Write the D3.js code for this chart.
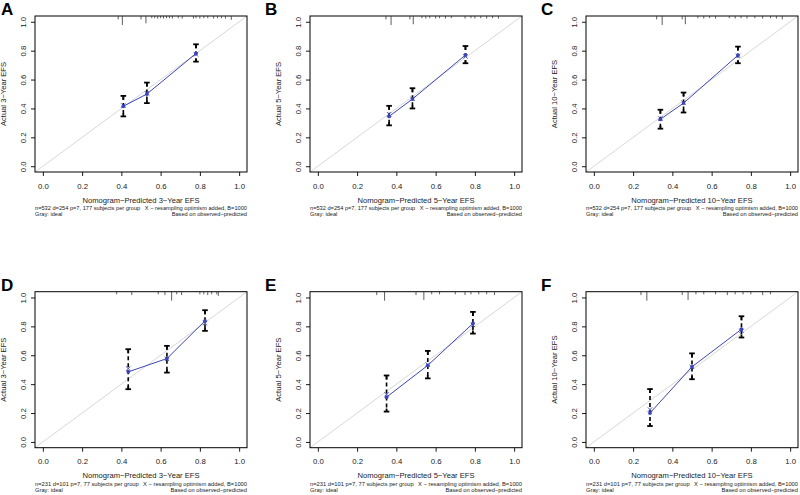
<!DOCTYPE html>
<html>
<head>
<meta charset="utf-8">
<script src="https://cdn.jsdelivr.net/npm/d3@7"></script>
<style>
  html, body { margin: 0; padding: 0; background: #fff; }
  svg { display: block; font-family: "Liberation Sans", Arial, Helvetica, sans-serif; }
</style>
</head>
<body>
<script>
// ---------------- DATA ----------------
const panelLetters = ["A", "B", "C", "D", "E", "F"];
const horizons = ["3", "5", "10", "3", "5", "10"];
const tickValues = [0, 0.2, 0.4, 0.6, 0.8, 1.0];
const tickLabels = ["0.0", "0.2", "0.4", "0.6", "0.8", "1.0"];
const sampleInfo = ["n=532 d=254 p=7, 177 subjects per group", "n=532 d=254 p=7, 177 subjects per group", "n=532 d=254 p=7, 177 subjects per group",
                    "n=231 d=101 p=7, 77 subjects per group", "n=231 d=101 p=7, 77 subjects per group", "n=231 d=101 p=7, 77 subjects per group"];
const optimismNote = "X \u2212 resampling optimism added, B=1000";
const idealNote = "Gray: ideal";
const basisNote = "Based on observed\u2212predicted";

// mean predicted probability per group
const predicted = [
  [0.41, 0.53, 0.78],
  [0.363, 0.482, 0.752],
  [0.339, 0.457, 0.734],
  [0.435, 0.632, 0.826],
  [0.35, 0.56, 0.79],
  [0.286, 0.50, 0.752]
];
// observed (Kaplan-Meier) estimate per group
const observed = [
  [0.415, 0.50, 0.78],
  [0.345, 0.465, 0.77],
  [0.325, 0.437, 0.768],
  [0.485, 0.577, 0.838],
  [0.31, 0.53, 0.82],
  [0.20, 0.52, 0.78]
];
// bias-corrected estimate per group (X marks)
const corrected = [
  [0.42, 0.505, 0.775],
  [0.36, 0.467, 0.76],
  [0.33, 0.44, 0.765],
  [0.508, 0.575, 0.822],
  [0.33, 0.535, 0.81],
  [0.224, 0.52, 0.769]
];
const lowerCI = [
  [0.345, 0.437, 0.724],
  [0.283, 0.40, 0.713],
  [0.26, 0.372, 0.713],
  [0.365, 0.48, 0.769],
  [0.21, 0.44, 0.75],
  [0.11, 0.434, 0.723]
];
const upperCI = [
  [0.487, 0.579, 0.844],
  [0.418, 0.54, 0.832],
  [0.391, 0.51, 0.828],
  [0.642, 0.665, 0.912],
  [0.46, 0.63, 0.90],
  [0.366, 0.613, 0.87]
];
// spike histogram of predictions along the top border
const rugValues = [
  [0.384, 0.405, 0.50, 0.525, 0.555, 0.57, 0.585, 0.60, 0.615, 0.63, 0.645, 0.66, 0.69, 0.71, 0.767, 0.78, 0.80, 0.82, 0.84, 0.87, 0.89, 0.91, 0.93, 0.96],
  [0.347, 0.373, 0.469, 0.486, 0.53, 0.55, 0.57, 0.60, 0.62, 0.65, 0.68, 0.75, 0.78, 0.80, 0.83, 0.86, 0.89, 0.92],
  [0.32, 0.348, 0.45, 0.466, 0.53, 0.56, 0.59, 0.62, 0.69, 0.72, 0.75, 0.78, 0.82, 0.86, 0.90, 0.93, 0.96],
  [0.376, 0.453, 0.588, 0.622, 0.656, 0.682, 0.707, 0.80, 0.82, 0.84, 0.86, 0.886, 0.894],
  [0.30, 0.34, 0.50, 0.54, 0.58, 0.62, 0.70, 0.75, 0.78, 0.82, 0.86, 0.90],
  [0.24, 0.27, 0.45, 0.48, 0.52, 0.56, 0.62, 0.68, 0.72, 0.76, 0.80, 0.86, 0.90]
];
const rugHeights = [
  [0.3, 1.0, 0.3, 0.8, 0.15, 0.15, 0.2, 0.15, 0.2, 0.15, 0.15, 0.2, 0.15, 0.2, 0.2, 0.15, 0.2, 0.15, 0.15, 0.2, 0.15, 0.15, 0.2, 0.35],
  [0.3, 1.0, 0.3, 0.9, 0.15, 0.2, 0.15, 0.2, 0.15, 0.2, 0.15, 0.2, 0.15, 0.2, 0.15, 0.2, 0.15, 0.2],
  [0.3, 1.0, 0.3, 0.9, 0.15, 0.2, 0.15, 0.2, 0.15, 0.2, 0.15, 0.2, 0.15, 0.2, 0.15, 0.2, 0.3],
  [0.2, 0.3, 0.2, 0.3, 1.0, 0.2, 0.3, 0.2, 0.2, 0.3, 0.2, 0.2, 0.4],
  [0.3, 1.0, 0.3, 0.9, 0.2, 0.2, 0.2, 0.3, 0.2, 0.2, 0.2, 0.3],
  [0.3, 1.0, 0.3, 0.9, 0.2, 0.2, 0.2, 0.3, 0.2, 0.2, 0.2, 0.3, 0.2]
];

// ---------------- LAYOUT ----------------
const W = 800, H = 495;
const boxLefts = [35, 310, 586];
const boxTops = [16, 291.7];
const letterX = [1, 265, 541];
const boxW = 212, boxH = 156;
const blue = "#3c45b6";
const ink = "#1a1a1a";

const svg = d3.select("body").append("svg")
  .attr("width", W).attr("height", H)
  .attr("viewBox", `0 0 ${W} ${H}`);
svg.append("rect").attr("width", W).attr("height", H).attr("fill", "#fff");

panelLetters.forEach((letter, i) => {
  const col = i % 3, row = Math.floor(i / 3);
  const L = boxLefts[col], T = boxTops[row];
  const x = d3.scaleLinear().domain([-0.04, 1.04]).range([L, L + boxW]);
  const y = d3.scaleLinear().domain([-0.04, 1.04]).range([T + boxH, T]);
  const g = svg.append("g");

  // panel letter
  g.append("text").attr("x", letterX[col]).attr("y", T - 1)
    .attr("font-size", 17).attr("font-weight", "bold").attr("fill", "#000")
    .text(letter);

  // ideal line
  g.append("line")
    .attr("x1", x(-0.04)).attr("y1", y(-0.04))
    .attr("x2", x(1.04)).attr("y2", y(1.04))
    .attr("stroke", "#d8d8d8").attr("stroke-width", 1);

  // x axis
  const xa = g.append("g").attr("transform", `translate(0,${T + boxH})`)
    .call(d3.axisBottom(x).tickValues(tickValues).tickFormat((d, k) => tickLabels[k]).tickSize(4).tickPadding(7));
  xa.select(".domain").remove();
  xa.selectAll("line").attr("stroke", ink);
  xa.selectAll("text").attr("font-size", 7.8).attr("fill", ink).attr("font-family", null);

  // y axis
  const ya = g.append("g").attr("transform", `translate(${L},0)`)
    .call(d3.axisLeft(y).tickValues(tickValues).tickFormat((d, k) => tickLabels[k]).tickSize(4));
  ya.select(".domain").remove();
  ya.selectAll("line").attr("stroke", ink);
  ya.selectAll("text")
    .attr("x", null).attr("dy", null).attr("y", null)
    .attr("text-anchor", "middle")
    .attr("transform", "translate(-9.5,0) rotate(-90)")
    .attr("font-size", 7.8).attr("fill", ink).attr("font-family", null);

  // box
  g.append("rect").attr("x", L).attr("y", T).attr("width", boxW).attr("height", boxH)
    .attr("fill", "none").attr("stroke", "#000").attr("stroke-width", 1);

  // rug spikes at top
  g.selectAll(".rug").data(rugValues[i]).enter().append("line")
    .attr("x1", d => x(d)).attr("x2", d => x(d))
    .attr("y1", T).attr("y2", (d, k) => T + 1 + rugHeights[i][k] * 8)
    .attr("stroke", "#333").attr("stroke-width", 0.8);

  // error bars
  const idx = d3.range(predicted[i].length);
  const eb = g.append("g");
  idx.forEach(k => {
    const cx = x(predicted[i][k]);
    const yl = y(lowerCI[i][k]), yh = y(upperCI[i][k]);
    eb.append("line").attr("x1", cx).attr("x2", cx).attr("y1", yh).attr("y2", yl)
      .attr("stroke", "#000").attr("stroke-width", 1.6).attr("stroke-dasharray", "4,3");
    eb.append("line").attr("x1", cx).attr("x2", cx).attr("y1", yh).attr("y2", yh + 4)
      .attr("stroke", "#000").attr("stroke-width", 1.8);
    eb.append("line").attr("x1", cx).attr("x2", cx).attr("y1", yl).attr("y2", yl - 3)
      .attr("stroke", "#000").attr("stroke-width", 1.8);
    eb.append("line").attr("x1", cx - 2.8).attr("x2", cx + 2.8).attr("y1", yh).attr("y2", yh)
      .attr("stroke", "#000").attr("stroke-width", 1.8);
    eb.append("line").attr("x1", cx - 2.8).attr("x2", cx + 2.8).attr("y1", yl).attr("y2", yl)
      .attr("stroke", "#000").attr("stroke-width", 1.8);
  });

  // observed line
  g.append("path")
    .datum(idx)
    .attr("d", d3.line().x(k => x(predicted[i][k])).y(k => y(observed[i][k])))
    .attr("fill", "none").attr("stroke", blue).attr("stroke-width", 1);

  // observed dots
  g.selectAll(".dot").data(idx).enter().append("circle")
    .attr("cx", k => x(predicted[i][k])).attr("cy", k => y(observed[i][k]))
    .attr("r", 1.9).attr("fill", blue);

  // bias-corrected X marks
  g.selectAll(".xm").data(idx).enter().append("path")
    .attr("d", k => {
      const cx = x(predicted[i][k]), cy = y(corrected[i][k]), s = 2.2;
      return `M${cx - s},${cy - s}L${cx + s},${cy + s}M${cx - s},${cy + s}L${cx + s},${cy - s}`;
    })
    .attr("stroke", blue).attr("stroke-width", 0.9).attr("fill", "none");

  // titles
  g.append("text").attr("x", L + boxW / 2).attr("y", T + boxH + 30.5)
    .attr("text-anchor", "middle").attr("font-size", 7.6).attr("fill", ink)
    .text(`Nomogram\u2212Predicted ${horizons[i]}\u2212Year EFS`);
  g.append("text")
    .attr("transform", `translate(${L - 29.3},${T + boxH / 2}) rotate(-90)`)
    .attr("text-anchor", "middle").attr("font-size", 7.6).attr("fill", ink)
    .text(`Actual ${horizons[i]}\u2212Year EFS`);

  // subtitles: sized so the two halves of line 1 just fit the box width
  const s1 = T + boxH + 37.8, s2 = T + boxH + 44.3;
  const base = 6;
  const t1 = g.append("text").attr("x", L).attr("y", s1).attr("font-size", base).attr("fill", ink).text(sampleInfo[i]);
  const t2 = g.append("text").attr("x", L + boxW).attr("y", s1).attr("text-anchor", "end").attr("font-size", base).attr("fill", ink).text(optimismNote);
  const t3 = g.append("text").attr("x", L).attr("y", s2).attr("font-size", base).attr("fill", ink).text(idealNote);
  const t4 = g.append("text").attr("x", L + boxW).attr("y", s2).attr("text-anchor", "end").attr("font-size", base).attr("fill", ink).text(basisNote);
  const total = t1.node().getComputedTextLength() + t2.node().getComputedTextLength();
  const fs = Math.min(6.8, base * (boxW - 4) / total);
  [t1, t2, t3, t4].forEach(t => t.attr("font-size", fs));
});
</script>
</body>
</html>
